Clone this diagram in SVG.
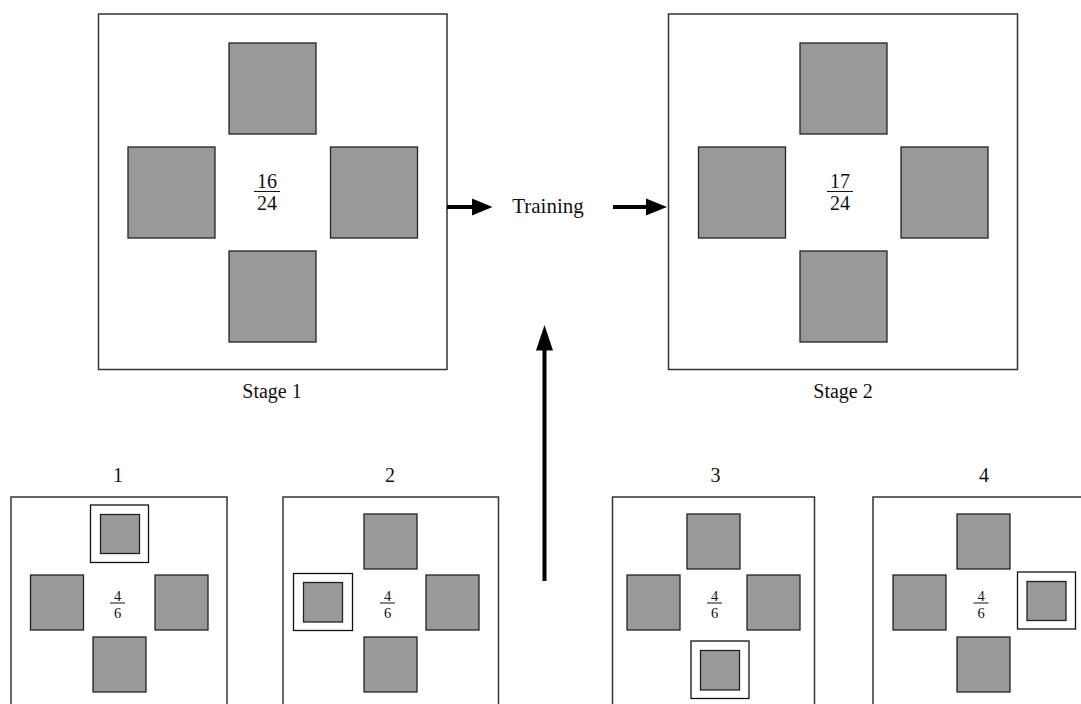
<svg xmlns="http://www.w3.org/2000/svg" width="1081" height="704" viewBox="0 0 1081 704">
<style>
.frame{fill:#fff;stroke:#333;stroke-width:1.5}
.sq{fill:#999;stroke:#222;stroke-width:1.3}
.hl{fill:#fff;stroke:#111;stroke-width:1.3}
.t{font-family:"Liberation Serif","Times New Roman",serif;fill:#111;text-anchor:middle}
.big{font-size:21px}
.frac{font-size:20px}
.lbl{font-size:20px}
.sm{font-size:14.5px}
.fl{stroke:#111;stroke-width:1}
.conn{stroke:#000;stroke-width:4;fill:none}
.head{fill:#000}
</style>
<rect width="1081" height="704" fill="#fff"/>
<g id="stage1">
<rect class="frame" x="98.5" y="14" width="348.5" height="355.5"/>
<rect class="sq" x="229" y="43" width="87" height="91"/>
<rect class="sq" x="128" y="147" width="87" height="91"/>
<rect class="sq" x="330.5" y="147" width="87" height="91"/>
<rect class="sq" x="229" y="251" width="87" height="91"/>
<text class="t frac" x="267" y="187.5">16</text>
<line class="fl" x1="254" y1="191.5" x2="280" y2="191.5"/>
<text class="t frac" x="267" y="210">24</text>
<text class="t lbl" x="272" y="398">Stage 1</text>
</g>
<g id="stage2">
<rect class="frame" x="668.5" y="14" width="349" height="355.5"/>
<rect class="sq" x="800" y="43" width="87" height="91"/>
<rect class="sq" x="698.5" y="147" width="87" height="91"/>
<rect class="sq" x="901" y="147" width="87" height="91"/>
<rect class="sq" x="800" y="251" width="87" height="91"/>
<text class="t frac" x="840" y="187.5">17</text>
<line class="fl" x1="827" y1="191.5" x2="853" y2="191.5"/>
<text class="t frac" x="840" y="210">24</text>
<text class="t lbl" x="843" y="398">Stage 2</text>
</g>
<g id="training">
<text class="t big" x="548" y="213">Training</text>
</g>
<g id="panel1">
<text class="t lbl" x="118" y="481.5">1</text>
<rect class="frame" x="11" y="497" width="216" height="230"/>
<rect class="hl" x="90.5" y="505" width="58" height="57.5"/>
<rect class="sq" x="100.5" y="514.5" width="39" height="39"/>
<rect class="sq" x="30.5" y="575" width="53" height="55"/>
<rect class="sq" x="155" y="575" width="53" height="55"/>
<rect class="sq" x="93" y="637" width="53" height="55"/>
<text class="t sm" x="117.5" y="600.5">4</text>
<line class="fl" x1="110" y1="603" x2="125" y2="603"/>
<text class="t sm" x="117.5" y="617.5">6</text>
</g>
<g id="panel2">
<text class="t lbl" x="390" y="481.5">2</text>
<rect class="frame" x="283" y="497" width="215.5" height="230"/>
<rect class="sq" x="364" y="514" width="53" height="55"/>
<rect class="hl" x="293.5" y="573.5" width="59" height="57"/>
<rect class="sq" x="303.5" y="582.5" width="39" height="39.5"/>
<rect class="sq" x="426" y="575" width="53" height="55"/>
<rect class="sq" x="364" y="637" width="53" height="55"/>
<text class="t sm" x="387.5" y="600.5">4</text>
<line class="fl" x1="380" y1="603" x2="395" y2="603"/>
<text class="t sm" x="387.5" y="617.5">6</text>
</g>
<g id="panel3">
<text class="t lbl" x="715.5" y="481.5">3</text>
<rect class="frame" x="612.5" y="497" width="202" height="230"/>
<rect class="sq" x="687" y="514" width="53" height="55"/>
<rect class="sq" x="627" y="575" width="53" height="55"/>
<rect class="sq" x="747" y="575" width="53" height="55"/>
<rect class="hl" x="691" y="641" width="58" height="57.5"/>
<rect class="sq" x="700.5" y="650.5" width="39" height="39.5"/>
<text class="t sm" x="714.5" y="600.5">4</text>
<line class="fl" x1="707" y1="603" x2="722" y2="603"/>
<text class="t sm" x="714.5" y="617.5">6</text>
</g>
<g id="panel4">
<text class="t lbl" x="984" y="481.5">4</text>
<rect class="frame" x="873" y="497" width="230" height="230"/>
<rect class="sq" x="957" y="514" width="53" height="55"/>
<rect class="sq" x="893" y="575" width="53" height="55"/>
<rect class="hl" x="1017.5" y="572" width="58" height="57"/>
<rect class="sq" x="1027" y="581.5" width="39" height="39"/>
<rect class="sq" x="957" y="637" width="53" height="55"/>
<text class="t sm" x="981" y="600.5">4</text>
<line class="fl" x1="973.5" y1="603" x2="988.5" y2="603"/>
<text class="t sm" x="981" y="617.5">6</text>
</g>
<g id="connectors">
<line class="conn" x1="447" y1="207" x2="473" y2="207"/>
<polygon class="head" points="472,198.5 492.5,207 472,215.5"/>
<line class="conn" x1="613" y1="207" x2="647" y2="207"/>
<polygon class="head" points="646,198.5 667,207 646,215.5"/>
<line class="conn" x1="544.5" y1="581" x2="544.5" y2="349"/>
<polygon class="head" points="536,350.5 544.5,325 553,350.5"/>
</g>
</svg>
